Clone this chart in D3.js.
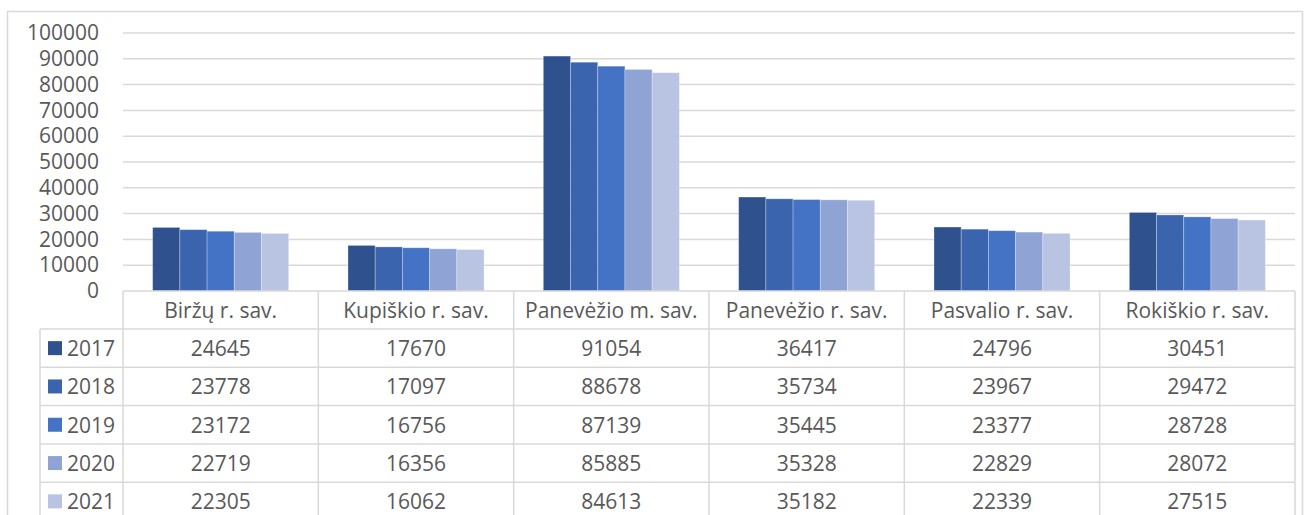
<!DOCTYPE html>
<html><head><meta charset="utf-8">
<script src="https://cdn.jsdelivr.net/npm/d3@7"></script>
<style>body{margin:0;background:#fff}svg{display:block}text{font-family:"Open Sans",Lato,sans-serif;fill:#595959}</style>
</head><body><svg id="c" width="1304" height="515"></svg>
<script>
const categories = ["Biržų r. sav.","Kupiškio r. sav.","Panevėžio m. sav.","Panevėžio r. sav.","Pasvalio r. sav.","Rokiškio r. sav."];
const years = ["2017","2018","2019","2020","2021"];
const v2017 = [24645,17670,91054,36417,24796,30451];
const v2018 = [23778,17097,88678,35734,23967,29472];
const v2019 = [23172,16756,87139,35445,23377,28728];
const v2020 = [22719,16356,85885,35328,22829,28072];
const v2021 = [22305,16062,84613,35182,22339,27515];
const series = [v2017,v2018,v2019,v2020,v2021];
const colors = ["#2F528F","#3A64AD","#4472C4","#8FA3D5","#B9C4E3"];
const yTicks = [0,10000,20000,30000,40000,50000,60000,70000,80000,90000,100000];

(function(){
const svg = d3.select("#c");
const grid = "#d9d9d9";
const fs = "21px";
const pLeft = 123, pRight = 1295, pTop = 33, base = 291;
const x = d3.scaleBand().domain(categories).range([pLeft,pRight]).padding(0);
const xi = d3.scaleBand().domain(years).range([0,x.bandwidth()]).paddingInner(0).paddingOuter(1.09);
const y = d3.scaleLinear().domain([0,100000]).range([base,pTop]);

svg.append("rect").attr("x",7.5).attr("y",11.5).attr("width",1295).attr("height",530)
  .attr("fill","none").attr("stroke",grid).attr("stroke-width",1.5);

svg.append("g").selectAll("line").data(yTicks.filter(d=>d>0)).join("line")
  .attr("x1",pLeft).attr("x2",pRight).attr("y1",d=>y(d)).attr("y2",d=>y(d))
  .attr("stroke",grid).attr("stroke-width",1.5);

const yAxis = d3.axisLeft(y).tickValues(yTicks).tickSize(0).tickPadding(0).tickFormat(d=>String(d));
const ga = svg.append("g").attr("transform","translate(99,0)").call(yAxis);
ga.select(".domain").remove();
ga.selectAll("text").attr("fill","#595959").style("font-size",fs).style("font-family","'Open Sans',sans-serif");

const gb = svg.append("g");
series.forEach((s,i)=>{
  gb.append("g").selectAll("rect").data(s).join("rect")
    .attr("x",(d,j)=>x(categories[j])+xi(years[i]))
    .attr("width",xi.bandwidth())
    .attr("y",d=>y(d)).attr("height",d=>base-y(d))
    .attr("fill",colors[i]).attr("stroke","#fff").attr("stroke-opacity",0.35).attr("stroke-width",0.8);
});

const rowH = 38.3, hdrTop = base, rowTop = base + 38;
const legLeft = 40;
const tg = svg.append("g");
const line = (x1,y1,x2,y2)=>tg.append("line").attr("x1",x1).attr("y1",y1).attr("x2",x2).attr("y2",y2).attr("stroke",grid).attr("stroke-width",1.5);
line(pLeft,hdrTop,pRight,hdrTop);
for(let r=0;r<=years.length;r++){ line(legLeft,rowTop+r*rowH,pRight,rowTop+r*rowH); }
const bottom = 530;
categories.forEach(c=>line(x(c),hdrTop,x(c),bottom));
line(pRight,hdrTop,pRight,bottom);
line(legLeft,rowTop,legLeft,bottom);

tg.selectAll("text.hdr").data(categories).join("text").attr("class","hdr")
  .attr("x",d=>x(d)+x.bandwidth()/2).attr("y",hdrTop+rowH/2)
  .attr("text-anchor","middle").attr("dominant-baseline","central").style("font-size",fs).text(d=>d);

years.forEach((yr,i)=>{
  const cy = rowTop + i*rowH + rowH/2;
  tg.append("rect").attr("x",48).attr("y",cy-7).attr("width",14).attr("height",14).attr("fill",colors[i]);
  tg.append("text").attr("x",67).attr("y",cy).attr("dominant-baseline","central").style("font-size",fs).text(yr);
  tg.append("g").selectAll("text").data(series[i]).join("text")
    .attr("x",(d,j)=>x(categories[j])+x.bandwidth()/2).attr("y",cy)
    .attr("text-anchor","middle").attr("dominant-baseline","central").style("font-size",fs).text(d=>d);
});
})();
</script></body></html>
